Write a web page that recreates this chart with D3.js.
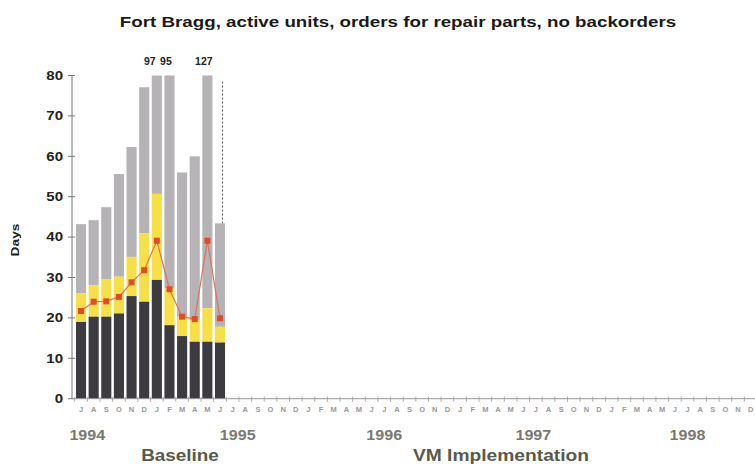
<!DOCTYPE html>
<html>
<head>
<meta charset="utf-8">
<script src="https://cdn.jsdelivr.net/npm/d3@7"></script>
<style>
  body { margin: 0; background: #fff; }
  text { font-family: "Liberation Sans", Arial, sans-serif; }
</style>
</head>
<body>
<div class="chart"></div>
<script>
const width = 755;
const height = 464;

// Jul 1994 .. Dec 1998
const months = ("J A S O N D " +
    "J F M A M J J A S O N D " +
    "J F M A M J J A S O N D " +
    "J F M A M J J A S O N D " +
    "J F M A M J J A S O N D").trim().split(" ");

// baseline months Jul 94 .. Jun 95
const darkTop   = [19, 20.3, 20.3, 21.1, 25.4, 24, 29.4, 18.2, 15.5, 14.1, 14.1, 13.9];
const yellowTop = [26.1, 28.1, 29.6, 30.2, 35.1, 40.9, 50.7, 27.3, 20.3, 19.5, 22.4, 17.8];
const grayTop   = [43.2, 44.2, 47.4, 55.6, 62.3, 77.1, 97, 95, 56, 60, 127, 43.4];
const redLine   = [21.7, 24, 24.1, 25.2, 28.8, 31.8, 39.1, 27.1, 20.3, 19.7, 39.1, 19.9];

const years = ["1994", "1995", "1996", "1997", "1998"];
const yearAt = [0.5, 12.4, 24, 35.8, 48];   // month index where each year label sits
const yTicks = [0, 10, 20, 30, 40, 50, 60, 70, 80];
const yMax = 80;

const svg = d3.select(".chart")
    .append("svg")
        .attr("width", width)
        .attr("height", height);

// the original lettering is a bit wider than the font we have
function stretch(sel, k) {
    sel.each(function() {
        const w = this.getComputedTextLength();
        d3.select(this)
            .attr("textLength", w * k)
            .attr("lengthAdjust", "spacingAndGlyphs");
    });
}

const x = d3.scaleBand()
    .domain(d3.range(months.length))
    .range([74.7, 757])
    .paddingInner(0.2)
    .paddingOuter(0.1);

const y = d3.scaleLinear()
    .domain([0, yMax])
    .range([398.7, 75.5]);

// centre of month i (also works for fractional i)
const cx = i => x(0) + x.bandwidth() / 2 + i * x.step();

// title
svg.append("text")
    .attr("x", 398)
    .attr("y", 27)
    .attr("text-anchor", "middle")
    .attr("font-size", 15)
    .attr("font-weight", "bold")
    .attr("fill", "#1a1a1a")
    .text("Fort Bragg, active units, orders for repair parts, no backorders")
    .call(stretch, 1.25);

// dashed divider
svg.append("line")
    .attr("x1", cx(11) + 2.5).attr("x2", cx(11) + 2.5)
    .attr("y1", y(78.5)).attr("y2", y(0))
    .attr("stroke", "#555")
    .attr("stroke-width", 1)
    .attr("stroke-dasharray", "2,2");

// stacked bars
const bars = svg.append("g");
darkTop.forEach((d, i) => {
    bars.append("rect")
        .attr("x", x(i)).attr("width", x.bandwidth())
        .attr("y", y(Math.min(grayTop[i], yMax)))
        .attr("height", y(yellowTop[i]) - y(Math.min(grayTop[i], yMax)))
        .attr("fill", "#b5b3b5");
    bars.append("rect")
        .attr("x", x(i)).attr("width", x.bandwidth())
        .attr("y", y(yellowTop[i]))
        .attr("height", y(d) - y(yellowTop[i]))
        .attr("fill", "#f7df47");
    bars.append("rect")
        .attr("x", x(i)).attr("width", x.bandwidth())
        .attr("y", y(d))
        .attr("height", y(0) - y(d))
        .attr("fill", "#3d3b40");
});

// labels for clipped bars
svg.append("g")
    .selectAll("text")
    .data(grayTop.map((v, i) => ({v, i})).filter(d => d.v > yMax))
    .join("text")
        .attr("x", d => cx(d.i) - (grayTop[d.i + 1] > yMax ? 7 : 3.5))
        .attr("y", 65)
        .attr("text-anchor", "middle")
        .attr("font-size", 10)
        .attr("font-weight", "bold")
        .attr("fill", "#222")
        .text(d => d.v)
        .call(stretch, 1.05);

// red line
svg.append("path")
    .datum(redLine)
    .attr("fill", "none")
    .attr("stroke", "#e0705a")
    .attr("stroke-width", 1.2)
    .attr("d", d3.line().x((d, i) => cx(i)).y(d => y(d)));

svg.append("g")
    .selectAll("rect")
    .data(redLine)
    .join("rect")
        .attr("x", (d, i) => cx(i) - 3)
        .attr("y", d => y(d) - 3)
        .attr("width", 6)
        .attr("height", 6)
        .attr("fill", "#e24a2a");

// y axis
const yAxis = svg.append("g");
yAxis.append("line")
    .attr("x1", 72).attr("x2", 72)
    .attr("y1", y(0)).attr("y2", y(yMax))
    .attr("stroke", "#777");
yAxis.selectAll(".tk")
    .data(yTicks)
    .join("line")
        .attr("x1", 68).attr("x2", 75)
        .attr("y1", d => y(d)).attr("y2", d => y(d))
        .attr("stroke", "#777");
yAxis.selectAll("text")
    .data(yTicks)
    .join("text")
        .attr("x", 63)
        .attr("y", d => y(d))
        .attr("dy", "0.35em")
        .attr("text-anchor", "end")
        .attr("font-size", 12)
        .attr("font-weight", "bold")
        .attr("fill", "#222")
        .text(d => d)
        .call(stretch, 1.25);

svg.append("text")
    .attr("transform", "translate(19,240) rotate(-90)")
    .attr("text-anchor", "middle")
    .attr("font-size", 11)
    .attr("font-weight", "bold")
    .attr("fill", "#222")
    .text("Days")
    .call(stretch, 1.25);

// x axis
const xAxis = svg.append("g");
xAxis.append("line")
    .attr("x1", 72).attr("x2", width)
    .attr("y1", y(0)).attr("y2", y(0))
    .attr("stroke", "#999");
xAxis.selectAll(".tk")
    .data(months)
    .join("line")
        .attr("x1", (d, i) => x(i) - x.step() * 0.1)
        .attr("x2", (d, i) => x(i) - x.step() * 0.1)
        .attr("y1", y(0) - 2).attr("y2", y(0) + 3)
        .attr("stroke", "#aaa");
xAxis.selectAll("text")
    .data(months)
    .join("text")
        .attr("x", (d, i) => cx(i))
        .attr("y", 412)
        .attr("text-anchor", "middle")
        .attr("font-size", 7.5)
        .attr("font-weight", "bold")
        .attr("fill", "#9a9a9a")
        .text(d => d);

svg.append("g")
    .selectAll("text")
    .data(years)
    .join("text")
        .attr("x", (d, i) => cx(yearAt[i]))
        .attr("y", 440)
        .attr("text-anchor", "middle")
        .attr("font-size", 14)
        .attr("font-weight", "bold")
        .attr("fill", "#7a7a72")
        .text(d => d)
        .call(stretch, 1.15);

svg.append("text")
    .attr("x", 180).attr("y", 461)
    .attr("text-anchor", "middle")
    .attr("font-size", 16)
    .attr("font-weight", "bold")
    .attr("fill", "#5a5a4c")
    .text("Baseline")
    .call(stretch, 1.18);

svg.append("text")
    .attr("x", 501).attr("y", 461)
    .attr("text-anchor", "middle")
    .attr("font-size", 16)
    .attr("font-weight", "bold")
    .attr("fill", "#5a5a4c")
    .text("VM Implementation")
    .call(stretch, 1.2);
</script>
</body>
</html>
